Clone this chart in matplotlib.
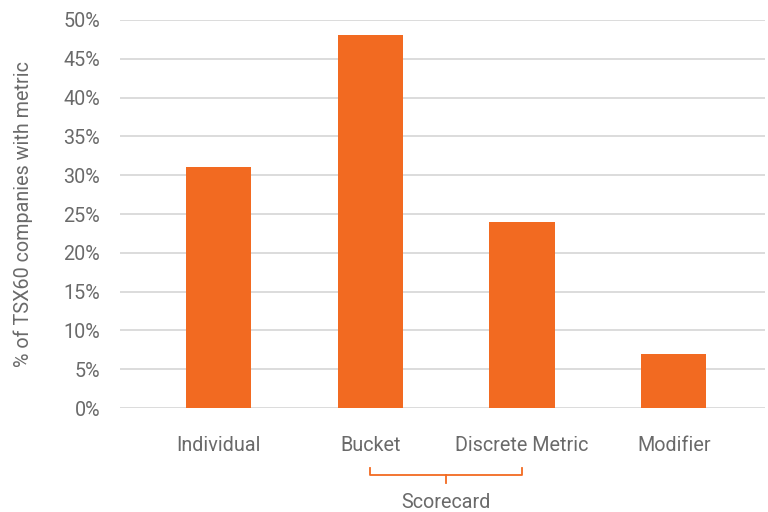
import matplotlib
matplotlib.use("Agg")
import matplotlib.pyplot as plt
from matplotlib.transforms import blended_transform_factory
from matplotlib.ticker import PercentFormatter

categories = ["Individual", "Bucket", "Discrete Metric", "Modifier"]
values = [31, 48, 24, 7]
group_label = "Scorecard"
group_members = ["Bucket", "Discrete Metric"]
y_label = "% of TSX60 companies with metric"

orange = "#F26A21"
text_color = "#6A6A6A"
grid_color = "#D9D9D9"
fs = 14.2

plt.rcParams['font.family'] = ['Roboto', 'DejaVu Sans']

fig = plt.figure(figsize=(7.68, 5.12), dpi=100)
ax = fig.add_axes([0.156, 0.203, 0.84, 0.758])

x = list(range(len(categories)))
ax.bar(x, values, width=0.43, color=orange, zorder=3)

ax.set_ylim(0, 50)
ax.set_yticks(range(0, 51, 5))
ax.yaxis.set_major_formatter(PercentFormatter(decimals=0))
ax.set_xlim(-0.65, len(categories) - 1 + 0.6)
ax.set_xticks(x)
ax.set_xticklabels(categories)
ax.grid(axis='y', color=grid_color, linewidth=1.3, zorder=0)
for s in ax.spines.values():
    s.set_visible(False)
ax.tick_params(axis='both', length=0, colors=text_color, labelsize=fs)
ax.tick_params(axis='x', pad=20)
ax.tick_params(axis='y', pad=14)
ax.set_ylabel(y_label, color=text_color, fontsize=fs, labelpad=22)

# Scorecard bracket
tr = blended_transform_factory(ax.transData, ax.transAxes)
i0 = categories.index(group_members[0])
i1 = categories.index(group_members[1])
xm = (i0 + i1) / 2
ax.plot([i0, i0, i1, i1], [-0.155, -0.173, -0.173, -0.155], color=orange,
        linewidth=1.3, transform=tr, clip_on=False)
ax.plot([xm, xm], [-0.173, -0.193], color=orange, linewidth=1.3,
        transform=tr, clip_on=False)
ax.text(xm, -0.243, group_label, transform=tr, ha='center', va='center',
        color=text_color, fontsize=fs)

fig.savefig("out.png", dpi=100)
